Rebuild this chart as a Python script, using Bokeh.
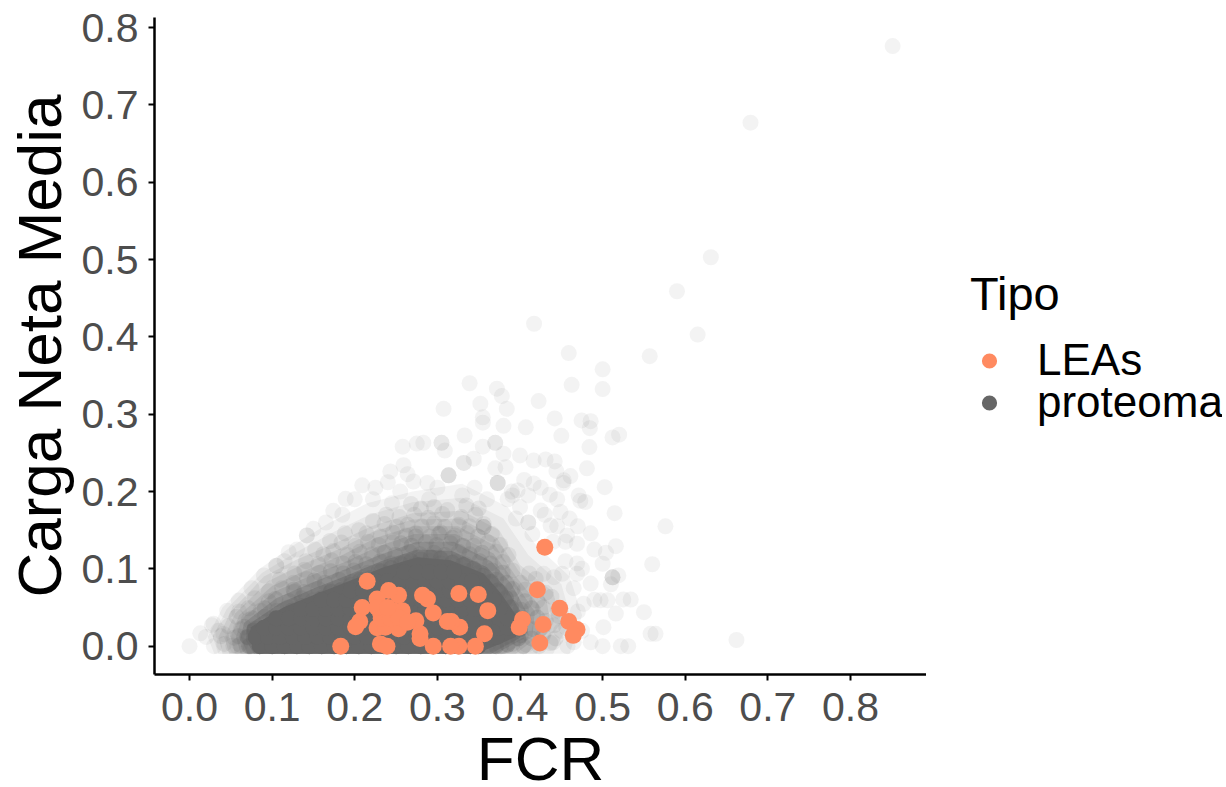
from bokeh.plotting import figure
from bokeh.layouts import row
from bokeh.models import Range1d, FixedTicker, NumeralTickFormatter, Legend, LegendItem, ColumnDataSource
from bokeh.embed import file_html
from bokeh.resources import INLINE

tick_values = [0.0, 0.1, 0.2, 0.3, 0.4, 0.5, 0.6, 0.7, 0.8]

leas_fcr = [.430,.215,.183,.421,.448,.459,.469,.4645,.428,.424,.403,.399,.361,.3495,.326,.357,.346,.326,.316,.295,
            .327,.317,.312,.295,.288,.282,.279,.279,.274,.253,.241,.227,.209,.206,.201,.231,.239,.227,.237,.253,
            .2575,.247,.231,.232,.243,.253,.264,.227,.240]
leas_carga = [.128,.084,.000,.073,.049,.032,.0216,.014,.028,.004,.0345,.0246,.046,.067,.068,.016,.000,.000,.000,.000,
              .0246,.032,.032,.043,.061,.066,.010,.016,.033,.066,.072,.061,.050,.032,.025,.003,.000,.024,.0246,.0225,
              .046,.046,.044,.036,.036,.037,.031,.050,.050]

# dispersed proteins, read one by one: (FCR, net charge)
proteoma_disperso = [
 (.851,.776),(.679,.677),(.631,.503),(.590,.459),(.615,.403),(.417,.417),(.459,.379),(.557,.375),(.500,.358),(.500,.3325),
 (.4625,.338),(.339,.340),(.372,.333),(.378,.3235),(.352,.3136),(.384,.307),(.3075,.307),(.4225,.317),(.442,.2946),(.4745,.292),
 (.4855,.291),(.4845,.282),(.355,.296),(.355,.289),(.380,.285),(.407,.283),(.450,.272),(.512,.270),(.520,.2735),(.333,.2725),
 (.305,.263),(.305,.263),(.258,.258),(.275,.262),(.283,.263),(.309,.253),(.355,.258),(.370,.263),(.370,.263),(.484,.2575),
 (.380,.249),(.400,.2467),(.4165,.240),(.431,.2415),(.442,.239),(.481,.230),(.344,.2425),(.332,.237),(.332,.237),(.370,.230),
 (.3825,.2315),(.243,.226),(.259,.234),(.264,.2225),(.271,.213),(.3135,.221),(.3135,.221),(.3135,.221),(.288,.211),(.373,.211),
 (.373,.211),(.373,.211),(.4165,.2105),(.4525,.211),(.461,.220),(.5025,.2057),(.444,.2265),(.436,.196),(.471,.195),(.479,.1865),
 (.473,.188),(.5145,.172),(.576,.155),(.4855,.146),(.356,.154),(.356,.154),(.356,.154),(.410,.160),(.410,.160),(.437,.156),
 (.449,.1735),(.425,.1755),(.550,.044),(.534,.0604),(.525,.0605),(.516,.0422),(.512,.089),(.512,.089),(.512,.089),(.500,.1066),
 (.516,.1293),(.504,.1208),(.519,.0915),(.4855,.081),(.506,.0593),(.4975,.0593),(.522,.000),(.531,.000),(.500,.000),(.4855,.005),
 (.501,.0246),(.4575,.000),(.558,.016),(.564,.016),(.662,.008),(.560,.106),(.510,.080),(.000,.000),(.027,.027),(.029,.029),
 (.013,.0166),(.0295,.000),(.0456,.046),(.0595,.059),(.041,.0158),(.0577,.000),(.105,.104),(.105,.104),(.090,.0915),(.120,.1216),
 (.142,.1432),(.142,.1432),(.150,.1518),(.174,.175),(.189,.1906),(.209,.208),(.225,.205),(.200,.190),(.185,.170),(.165,.160),
 (.130,.125),(.115,.110),(.075,.075),(.060,.045),(.035,.020),(.020,.012),(.240,.212),(.255,.200),(.222,.190),(.245,.185),
 (.290,.190),(.300,.205),(.330,.195),(.345,.205),(.360,.190),(.390,.200),(.405,.215),(.425,.205),(.445,.190),(.400,.180),
 (.460,.165),(.440,.135),(.470,.155),(.490,.125),(.455,.110),(.475,.100),(.465,.075),(.490,.060),(.470,.045),(.450,.020),
 (.475,.020),(.465,.005),(.440,.005),(.385,.190),(.410,.195),(.430,.170),(.395,.165),(.415,.145),(.445,.155),(.455,.135),
 (.457,.1432),(.469,.1325),(.469,.107),(.469,.0936),(.451,.0936),(.441,.0893),(.4285,.0936),(.477,.0548),(.453,.2145),(.397,.2014),
 (.391,.195),
]

# thin haze around the body of the cloud
proteoma_halo = [
 (.042,.003),(.053,.001),(.408,.002),(.423,.000),(.437,.004),(.038,.013),(.054,.011),(.428,.014),(.443,.010),(.047,.026),
 (.062,.022),(.424,.022),(.441,.027),(.456,.024),(.057,.038),(.072,.034),(.431,.033),(.447,.039),(.071,.049),(.086,.046),
 (.428,.050),(.446,.046),(.079,.062),(.096,.058),(.421,.059),(.438,.064),(.096,.071),(.112,.075),(.127,.070),(.406,.073),
 (.431,.069),(.109,.086),(.126,.082),(.142,.087),(.401,.082),(.419,.087),(.127,.094),(.139,.099),(.157,.095),(.391,.098),
 (.411,.094),(.141,.110),(.156,.106),(.172,.111),(.186,.107),(.379,.109),(.162,.119),(.174,.123),(.191,.118),(.206,.122),
 (.221,.119),(.371,.122),(.386,.118),(.184,.134),(.201,.130),(.216,.135),(.229,.131),(.246,.134),(.344,.130),(.361,.134),
 (.376,.131),(.214,.146),(.231,.142),(.246,.147),(.262,.143),(.274,.146),(.291,.142),(.304,.147),(.321,.143),(.336,.146),
 (.349,.142),(.366,.145),(.236,.158),(.251,.154),(.264,.157),(.281,.155),(.296,.159),(.309,.154),(.326,.157),(.339,.155),
 (.356,.158),(.254,.167),(.272,.170),(.289,.166),(.306,.171),(.329,.167),(.346,.170),(.296,.180),(.312,.176),(.335,.182),
 (.350,.178),(.280,.178),(.268,.184),(.238,.170),(.222,.162),(.205,.150),(.188,.146),(.170,.136),(.152,.125),
]

# denser ring just outside the solid body
proteoma_anillo = [
 (.061,.002),(.074,.000),(.361,.002),(.377,.000),(.391,.003),(.404,.000),(.059,.013),(.071,.011),(.386,.012),(.401,.014),
 (.414,.010),(.066,.025),(.079,.023),(.399,.026),(.416,.022),(.076,.036),(.091,.038),(.404,.035),(.421,.037),(.091,.049),
 (.106,.046),(.119,.050),(.401,.047),(.414,.049),(.104,.061),(.121,.058),(.136,.062),(.149,.059),(.389,.062),(.406,.058),
 (.126,.073),(.139,.070),(.156,.074),(.171,.071),(.184,.073),(.376,.070),(.391,.074),(.151,.085),(.164,.082),(.181,.086),
 (.196,.083),(.211,.085),(.354,.083),(.371,.086),(.384,.082),(.171,.097),(.186,.094),(.199,.098),(.216,.095),(.229,.097),
 (.246,.094),(.336,.097),(.349,.094),(.366,.098),(.379,.095),(.201,.109),(.214,.106),(.231,.110),(.244,.107),(.261,.109),
 (.274,.106),(.291,.110),(.304,.107),(.321,.109),(.334,.106),(.351,.110),(.364,.107),(.236,.121),(.249,.118),(.266,.122),
 (.279,.119),(.296,.121),(.309,.118),(.326,.122),(.339,.119),(.354,.121),(.256,.133),(.269,.130),(.286,.134),(.299,.131),
 (.316,.133),(.331,.130),(.274,.142),(.318,.140),(.302,.145),
]

# points at the rim of the saturated body
proteoma_borde = [
 (.088,.022),(.100,.032),(.112,.036),(.124,.046),(.136,.052),(.148,.053),(.160,.062),(.171,.070),(.183,.072),(.195,.079),
 (.207,.086),(.219,.088),(.232,.097),(.244,.101),(.256,.106),(.268,.110),(.280,.112),(.292,.115),(.304,.113),(.318,.108),
 (.331,.105),(.344,.100),(.355,.091),(.365,.083),(.373,.072),(.383,.062),(.389,.050),(.396,.036),(.400,.022),(.398,.010),
 (.385,.002),(.371,.000),(.070,.012),(.072,.000),(.078,.020),
]

# saturated body of the cloud: points inside it, by charge level
proteoma_nucleo_y = [.000,.012,.024,.036,.048,.060,.072,.084,.096]
proteoma_nucleo_x = [
 [.085,.100,.115,.130,.145,.160,.175,.190,.205,.220,.235,.250,.265,.280,.295,.310,.325,.340,.350],
 [.080,.095,.110,.125,.140,.155,.170,.185,.200,.215,.230,.245,.260,.275,.290,.305,.320,.335,.350,.365,.372],
 [.090,.105,.120,.135,.150,.165,.180,.195,.210,.225,.240,.255,.270,.285,.300,.315,.330,.345,.360,.375,.385],
 [.105,.120,.135,.150,.165,.180,.195,.210,.225,.240,.255,.270,.285,.300,.315,.330,.345,.360,.375,.385],
 [.135,.150,.165,.180,.195,.210,.225,.240,.255,.270,.285,.300,.315,.330,.345,.360,.375],
 [.160,.175,.190,.205,.220,.235,.250,.265,.280,.295,.310,.325,.340,.355,.368],
 [.195,.210,.225,.240,.255,.270,.285,.300,.315,.330,.345,.358],
 [.225,.240,.255,.270,.285,.300,.315,.330,.342],
 [.260,.275,.290,.305,.320],
]

# density outlines of the overplotted cloud: outermost first
contorno_1_x = [.030,.022,.040,.085,.125,.170,.215,.270,.330,.385,.420,.460,.475,.460]
contorno_1_y = [-.0099,.012,.050,.100,.130,.160,.185,.200,.210,.180,.130,.090,.040,-.0099]
contorno_2_x = [.035,.028,.045,.088,.128,.175,.218,.270,.330,.380,.410,.450,.462,.440]
contorno_2_y = [-.0099,.012,.048,.095,.121,.148,.170,.186,.192,.165,.118,.080,.035,-.0099]
contorno_3_x = [.040,.035,.050,.090,.130,.180,.220,.270,.330,.375,.400,.440,.450,.420]
contorno_3_y = [-.0099,.012,.045,.090,.112,.135,.155,.172,.175,.150,.105,.070,.030,-.0099]
contorno_4_x = [.048,.042,.055,.095,.135,.182,.222,.270,.328,.372,.398,.432,.438,.408]
contorno_4_y = [-.0099,.012,.042,.084,.105,.126,.148,.164,.165,.140,.098,.060,.022,-.0099]
contorno_5_x = [.055,.050,.060,.100,.140,.185,.225,.270,.325,.370,.395,.425,.425,.395]
contorno_5_y = [-.0099,.012,.040,.078,.098,.118,.140,.155,.155,.130,.090,.050,.015,-.0099]
contorno_6_x = [.062,.056,.063,.102,.144,.188,.228,.272,.322,.368,.392,.418,.415,.382]
contorno_6_y = [-.0099,.012,.035,.070,.090,.109,.129,.145,.145,.120,.085,.045,.012,-.0099]
contorno_7_x = [.070,.062,.066,.105,.148,.190,.230,.275,.320,.365,.390,.410,.405,.370]
contorno_7_y = [-.0099,.012,.030,.062,.082,.100,.118,.135,.135,.110,.080,.040,.010,-.0099]
contorno_8_x = [.078,.068,.070,.110,.151,.192,.232,.276,.318,.360,.384,.404,.400,.365]
contorno_8_y = [-.0099,.008,.027,.056,.075,.092,.110,.125,.123,.102,.074,.039,.011,-.0099]
contorno_nucleo_x = [.085,.073,.074,.114,.1546,.195,.235,.276,.316,.356,.377,.397,.395,.360,.340]
contorno_nucleo_y = [-.0099,.005,.0246,.0505,.068,.085,.102,.115,.111,.094,.068,.0375,.012,-.004,-.0099]


def expand(ys, rows):
    xs_out, ys_out = [], []
    for yy, r in zip(ys, rows):
        for xx in r:
            xs_out.append(xx)
            ys_out.append(yy)
    return xs_out, ys_out

GRAY = "#666666"
ORANGE = "#FF8A60"
SIZE = 16

p = figure(frame_width=772, frame_height=657, output_backend="svg", toolbar_location=None,
           x_range=Range1d(-0.0424, 0.892), y_range=Range1d(-0.0366, 0.813),
           min_border_left=154, min_border_right=0, min_border_top=17, min_border_bottom=0,
           background_fill_color="white", border_fill_color="white")
p.outline_line_color = None
p.grid.visible = False

nx, ny = expand(proteoma_nucleo_y, proteoma_nucleo_x)

p.scatter([a for a, _ in proteoma_disperso], [b for _, b in proteoma_disperso],
          size=SIZE, color=GRAY, alpha=0.08, line_color=None)
for cx, cy, al in [(contorno_1_x, contorno_1_y, .08), (contorno_2_x, contorno_2_y, .08),
                   (contorno_3_x, contorno_3_y, .10), (contorno_4_x, contorno_4_y, .12),
                   (contorno_5_x, contorno_5_y, .14), (contorno_6_x, contorno_6_y, .18),
                   (contorno_7_x, contorno_7_y, .30), (contorno_8_x, contorno_8_y, .45)]:
    p.patch(cx, cy, color=GRAY, alpha=al, line_color=None)
p.scatter([a for a, _ in proteoma_halo], [b for _, b in proteoma_halo],
          size=SIZE, color=GRAY, alpha=0.10, line_color=None)
p.scatter([a for a, _ in proteoma_anillo], [b for _, b in proteoma_anillo],
          size=SIZE, color=GRAY, alpha=0.16, line_color=None)
p.scatter([a for a, _ in proteoma_borde], [b for _, b in proteoma_borde],
          size=SIZE, color=GRAY, alpha=0.35, line_color=None)
p.patch(contorno_nucleo_x, contorno_nucleo_y, color=GRAY, alpha=1.0, line_color=None)
p.scatter(nx, ny, size=SIZE, color=GRAY, alpha=1.0, line_color=None)
p.scatter(leas_fcr, leas_carga, size=SIZE + 1, color=ORANGE, line_color=None)

for ax_obj in (p.xaxis[0], p.yaxis[0]):
    ax_obj.ticker = FixedTicker(ticks=tick_values)
    ax_obj.formatter = NumeralTickFormatter(format="0.0")
    ax_obj.axis_line_color = "black"
    ax_obj.axis_line_width = 2.5
    ax_obj.major_tick_line_color = "black"
    ax_obj.major_tick_line_width = 2
    ax_obj.major_tick_out = 6
    ax_obj.major_tick_in = 0
    ax_obj.minor_tick_line_color = None
    ax_obj.major_label_text_font = "Liberation Sans"
    ax_obj.major_label_text_font_size = "41px"
    ax_obj.major_label_text_color = "#4D4D4D"
    ax_obj.axis_label_text_font = "Liberation Sans"
    ax_obj.axis_label_text_font_style = "normal"
    ax_obj.axis_label_text_color = "black"
    ax_obj.axis_label_text_font_size = "62px"

p.xaxis[0].axis_label = "FCR"
p.xaxis[0].major_label_standoff = 12
p.xaxis[0].axis_label_standoff = 0
p.yaxis[0].axis_label = "Carga Neta Media"
p.yaxis[0].major_label_standoff = 10
p.yaxis[0].axis_label_standoff = 5

# legend in its own panel to the right of the plot
q = figure(width=296, height=782, output_backend="svg", toolbar_location=None,
           x_axis_type=None, y_axis_type=None, x_range=Range1d(0, 1), y_range=Range1d(0, 1),
           min_border=0, background_fill_color="white", border_fill_color="white")
q.outline_line_color = None
q.grid.visible = False
key_src = ColumnDataSource(dict(x=[float("nan")], y=[float("nan")]))
key_lea = q.scatter("x", "y", source=key_src, size=16, color=ORANGE, line_color=None)
key_pro = q.scatter("x", "y", source=key_src, size=16, color=GRAY, line_color=None)
legend_style = dict(orientation="vertical", background_fill_alpha=0, border_line_color=None,
                    margin=0, padding=0, spacing=0, glyph_width=38, glyph_height=43,
                    label_height=43, label_width=100, label_standoff=29,
                    label_text_font="Liberation Sans", label_text_font_size="44px",
                    label_text_color="black")
legend_a = Legend(items=[LegendItem(label="LEAs", renderers=[key_lea])],
                  title="Tipo", location=(44, 276), title_standoff=14,
                  title_text_font="Liberation Sans", title_text_font_size="47px",
                  title_text_color="black", title_text_font_style="normal", **legend_style)
legend_b = Legend(items=[LegendItem(label="proteoma", renderers=[key_pro])],
                  location=(44, 234), **legend_style)
q.add_layout(legend_a)
q.add_layout(legend_b)

layout = row(p, q, spacing=0)
open("out.html", "w").write(file_html(layout, INLINE))
